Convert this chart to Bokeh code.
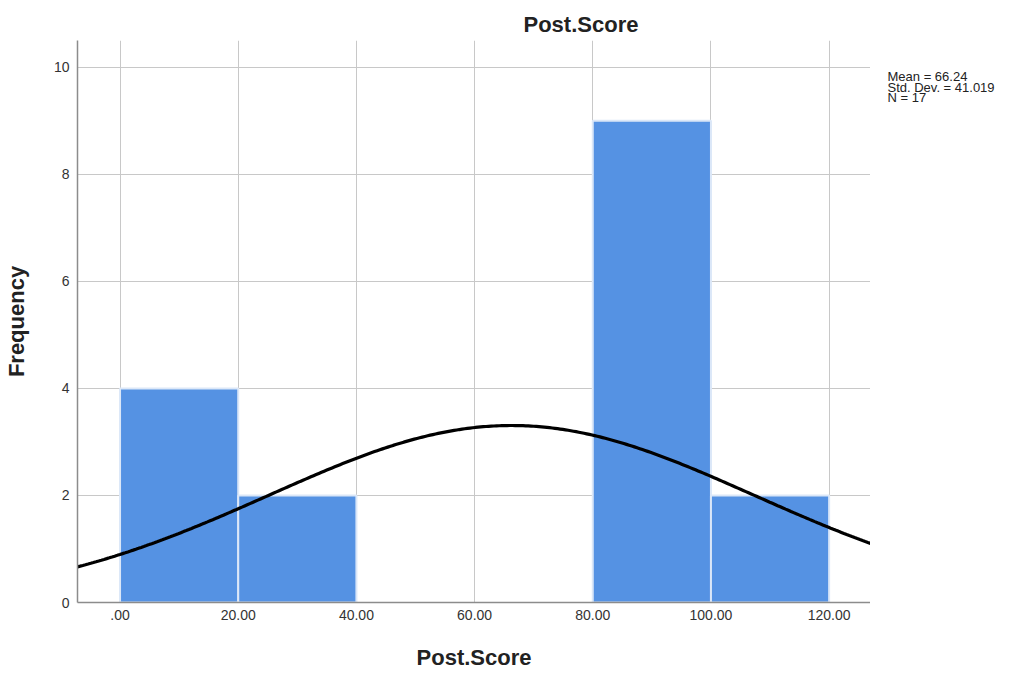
import numpy as np
from bokeh.plotting import figure
from bokeh.layouts import row
from bokeh.models import Range1d, FixedTicker, Title
from bokeh.core.properties import value
from bokeh.embed import file_html
from bokeh.resources import INLINE

# Data
bin_left = [0, 20, 80, 100]
bin_right = [20, 40, 100, 120]
frequency = [4, 2, 9, 2]
x_ticks = [0, 20, 40, 60, 80, 100, 120]
x_tick_labels = [".00", "20.00", "40.00", "60.00", "80.00", "100.00", "120.00"]
y_ticks = [0, 2, 4, 6, 8, 10]
mean = 66.24
std_dev = 41.019
n_total = 17
bin_width = 20
stats_lines = ["Mean = 66.24", "Std. Dev. = 41.019", "N = 17"]

FONT = "Liberation Sans"
H = 672
Y_MAX = 10.5

p = figure(width=870, height=H, output_backend="svg", toolbar_location=None,
           x_range=Range1d(-7.2, 127.0), y_range=Range1d(0, Y_MAX),
           min_border_left=68, min_border_right=0, min_border_top=40,
           min_border_bottom=70)
p.outline_line_color = None
p.background_fill_color = "white"
p.border_fill_color = "white"

t = Title(text="Post.Score", align="left", offset=446, text_font=FONT,
          text_font_size="22px", text_font_style="bold", text_color="#222222",
          standoff=8)
p.add_layout(t, "above")

p.quad(left=bin_left, right=bin_right, bottom=0, top=frequency,
       fill_color="#5592e3", line_color="#dbe7f8", line_width=2)

# fitted normal curve from displayed mean / sd / N
xs = np.linspace(-7.2, 127.0, 300)
ys = n_total * bin_width * np.exp(-0.5 * ((xs - mean) / std_dev) ** 2) / (std_dev * np.sqrt(2 * np.pi))
p.line(xs, ys, line_color="black", line_width=3.2)

for ax in (p.xaxis, p.yaxis):
    ax.axis_line_color = "#8c8c8c"
    ax.axis_line_width = 1.5
    ax.major_tick_line_color = None
    ax.minor_tick_line_color = None
    ax.major_label_text_font = FONT
    ax.major_label_text_font_size = "14px"
    ax.major_label_text_color = "#333333"
    ax.axis_label_text_font = FONT
    ax.axis_label_text_font_size = "22px"
    ax.axis_label_text_font_style = "bold"
    ax.axis_label_text_color = "#222222"

p.xaxis.ticker = FixedTicker(ticks=x_ticks)
p.xaxis.major_label_overrides = {t: l for t, l in zip(x_ticks, x_tick_labels)}
p.yaxis.ticker = FixedTicker(ticks=y_ticks)
p.xaxis.major_label_standoff = 1
p.yaxis.major_label_standoff = 2
p.xaxis.axis_label = "Post.Score"
p.yaxis.axis_label = "Frequency"
p.xaxis.axis_label_standoff = 22
p.yaxis.axis_label_standoff = 22

p.xgrid.ticker = FixedTicker(ticks=x_ticks)
p.ygrid.ticker = FixedTicker(ticks=y_ticks)
p.xgrid.grid_line_color = "#c8c8c8"
p.ygrid.grid_line_color = "#c8c8c8"

# side panel with the summary statistics (frame aligned with main plot)
p2 = figure(width=130, height=H, output_backend="svg", toolbar_location=None,
            x_range=Range1d(0, 130), y_range=Range1d(0, Y_MAX),
            min_border_left=0, min_border_right=0, min_border_top=40,
            min_border_bottom=70)
p2.axis.visible = False
p2.grid.visible = False
p2.outline_line_color = None
p2.text(x=[17], y=[9.97], text=["\n".join(stats_lines)],
        text_font=value(FONT), text_font_size="13px", text_line_height=0.72,
        text_align="left", text_baseline="top", text_color="#222222")

layout = row(p, p2)
open("out.html", "w").write(file_html(layout, INLINE))
